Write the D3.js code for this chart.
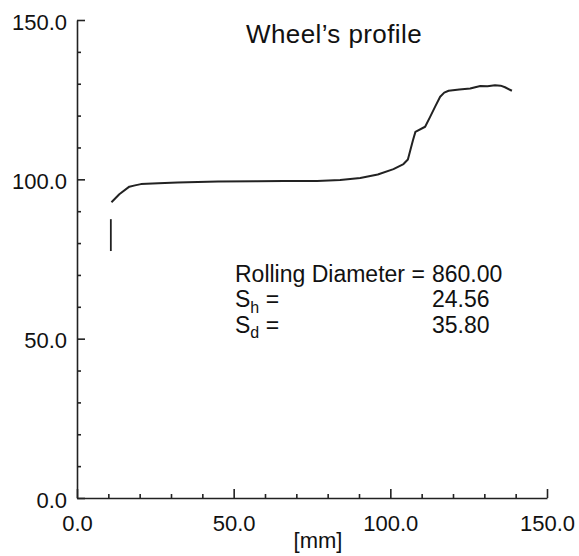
<!DOCTYPE html>
<html>
<head>
<meta charset="utf-8">
<script src="https://cdn.jsdelivr.net/npm/d3@7"></script>
<style>
  body { margin: 0; background: #fff; }
  svg text { font-family: "Liberation Sans", Arial, Helvetica, sans-serif; fill: #111; }
  .axis path, .axis line { stroke: #222; stroke-width: 1.6; }
</style>
</head>
<body>
<svg id="chart" width="579" height="556"></svg>
<script>
// profile trace: [mm] vs height
var profileX = [11.0, 13.5, 16.7, 18.5, 20.4, 26.0, 32.1, 45.0, 57.5, 66.0, 76.6, 84.0, 90.4, 96.0,
    101.0, 104.2, 105.6, 106.4, 107.2, 108.0, 111.1, 112.7, 114.3, 115.9, 117.2, 118.6,
    122.0, 125.5, 128.7, 131.0, 133.4, 135.2, 136.6, 138.8];
var profileY = [92.8, 95.3, 97.7, 98.1, 98.5, 98.8, 99.0, 99.3, 99.4, 99.5, 99.5, 99.8, 100.4, 101.5,
    103.2, 104.8, 106.2, 109.2, 112.2, 114.9, 116.5, 119.6, 122.8, 125.9, 127.2, 127.8,
    128.2, 128.5, 129.3, 129.2, 129.5, 129.4, 128.9, 127.8];
// short vertical stroke at the flange start
var markX = [10.8, 10.8];
var markY = [77.5, 87.5];

var majorTicks = [0, 50, 100, 150];
var minorTicks = [10, 20, 30, 40, 60, 70, 80, 90, 110, 120, 130, 140];

var titleText = 'Wheel\u2019s profile';
var xLabel = '[mm]';
var infoLabels = ['Rolling Diameter =', 'S', 'S'];
var infoSubs = ['', 'h', 'd'];
var infoValues = ['860.00', '24.56', '35.80'];

var margin = {left: 77, top: 20, right: 32, bottom: 58};
var svg = d3.select('#chart');
var width = 579 - margin.left - margin.right,
    height = 556 - margin.top - margin.bottom;

var x = d3.scaleLinear().domain([0, 150]).range([0, width]);
var y = d3.scaleLinear().domain([0, 150]).range([height, 0]);

var g = svg.append('g')
    .attr('transform', 'translate(' + margin.left + ',' + margin.top + ')');

// y axis: ticks point inward, labels on the left
g.append('g')
    .attr('class', 'axis')
    .call(d3.axisLeft(y).tickValues(majorTicks).tickSizeInner(-8).tickSizeOuter(0)
        .tickPadding(10).tickFormat(d3.format('.1f')))
    .call(function(a) {
        a.selectAll('text').attr('font-size', 22).attr('dy', '0.42em');
    });

g.append('g')
    .attr('class', 'axis')
    .call(d3.axisLeft(y).tickValues(minorTicks).tickSizeInner(-4).tickSizeOuter(0).tickFormat(''))
    .call(function(a) { a.select('.domain').remove(); });

// x axis
g.append('g')
    .attr('class', 'axis')
    .attr('transform', 'translate(0,' + height + ')')
    .call(d3.axisBottom(x).tickValues(majorTicks).tickSizeInner(-9).tickSizeOuter(0)
        .tickPadding(17).tickFormat(d3.format('.1f')))
    .call(function(a) {
        a.selectAll('text').attr('font-size', 22);
    });

g.append('g')
    .attr('class', 'axis')
    .attr('transform', 'translate(0,' + height + ')')
    .call(d3.axisBottom(x).tickValues(minorTicks).tickSizeInner(-4).tickSizeOuter(0).tickFormat(''))
    .call(function(a) { a.select('.domain').remove(); });

g.selectAll('.tick text').attr('fill', '#111');

var line = d3.line()
    .x(function(d) { return x(d[0]); })
    .y(function(d) { return y(d[1]); });

g.append('path')
    .datum(d3.zip(profileX, profileY))
    .attr('d', line)
    .attr('fill', 'none')
    .attr('stroke', '#222')
    .attr('stroke-width', 2)
    .attr('stroke-linejoin', 'round');

g.append('path')
    .datum(d3.zip(markX, markY))
    .attr('d', line)
    .attr('fill', 'none')
    .attr('stroke', '#222')
    .attr('stroke-width', 1.8);

svg.append('text')
    .attr('x', 334)
    .attr('y', 43)
    .attr('text-anchor', 'middle')
    .attr('font-size', 26)
    .attr('letter-spacing', 0.4)
    .text(titleText);

svg.append('text')
    .attr('x', 318)
    .attr('y', 548)
    .attr('text-anchor', 'middle')
    .attr('font-size', 22)
    .text(xLabel);

// info block
var info = svg.append('g').attr('font-size', 23);
var baselines = [282, 307, 332.5];
infoLabels.forEach(function(lbl, i) {
    var t = info.append('text').attr('x', 235).attr('y', baselines[i]);
    t.append('tspan').text(lbl);
    if (infoSubs[i]) {
        t.append('tspan').attr('font-size', 16).attr('dy', 5.5).text(infoSubs[i]);
        t.append('tspan').attr('dy', -5.5).text(' =');
    }
    info.append('text').attr('x', 432).attr('y', baselines[i]).text(infoValues[i]);
});
</script>
</body>
</html>
